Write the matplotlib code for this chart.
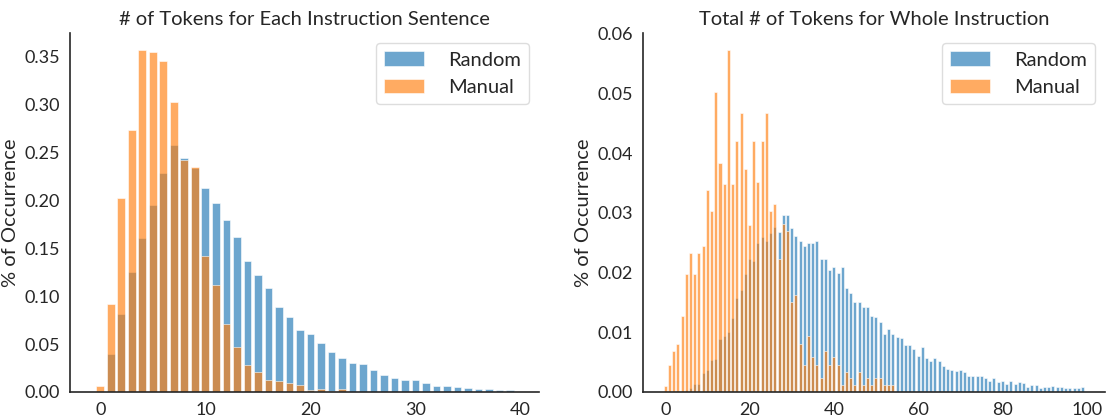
import numpy as np
import matplotlib
matplotlib.use("Agg")
import matplotlib.pyplot as plt

# per-sentence token counts (0..39)
sent_tokens = list(range(40))
sent_random = [0, 0.040, 0.081, 0.125, 0.160, 0.195, 0.228, 0.257, 0.244, 0.233,
               0.213, 0.197, 0.179, 0.161, 0.137, 0.122, 0.108, 0.089, 0.078, 0.065,
               0.060, 0.051, 0.042, 0.035, 0.030, 0.029, 0.023, 0.018, 0.015, 0.013,
               0.013, 0.0097, 0.0062, 0.0062, 0.0052, 0.0042, 0.0031, 0.0031, 0.0021, 0.0021]
sent_manual = [0.0062, 0.0914, 0.202, 0.273, 0.356, 0.354, 0.345, 0.3025, 0.242, 0.234,
               0.142, 0.112, 0.071, 0.047, 0.028, 0.021, 0.0125, 0.0118, 0.0097, 0.0076,
               0.002, 0.0028, 0.001, 0.0028, 0, 0, 0, 0, 0, 0,
               0, 0, 0, 0, 0, 0, 0, 0, 0, 0]

# whole-instruction token counts (0..99)
total_tokens = list(range(100))
total_random = [0, 0, 0, 0.0001, 0.0002, 0.0003, 0.0007, 0.0013, 0.0014, 0.0031,
                0.0036, 0.0053, 0.0055, 0.0088, 0.0093, 0.0100, 0.0124, 0.0157, 0.0171, 0.0198,
                0.0222, 0.0219, 0.0249, 0.0260, 0.0253, 0.0266, 0.0276, 0.0268, 0.0296, 0.0297,
                0.0274, 0.0261, 0.0252, 0.0244, 0.0249, 0.0249, 0.0252, 0.0222, 0.0222, 0.0204,
                0.0210, 0.0200, 0.0210, 0.0174, 0.0166, 0.0151, 0.0151, 0.0142, 0.0142, 0.0128,
                0.0126, 0.0117, 0.0097, 0.0105, 0.0097, 0.0092, 0.0091, 0.0079, 0.0078, 0.0072,
                0.0061, 0.0075, 0.0057, 0.0052, 0.0057, 0.0052, 0.0043, 0.0039, 0.0037, 0.0035,
                0.0037, 0.0033, 0.0027, 0.0027, 0.0026, 0.0026, 0.0023, 0.0018, 0.0023, 0.0017,
                0.0018, 0.0013, 0.0018, 0.0014, 0.0017, 0.0015, 0.0008, 0.0011, 0.0012, 0.0006,
                0.0009, 0.0008, 0.0010, 0.0008, 0.0008, 0.0006, 0.0007, 0.0006, 0.0007, 0.0008]
total_manual = [0.0010, 0.0045, 0.0068, 0.0080, 0.0127, 0.0198, 0.0233, 0.0198, 0.0233, 0.0244,
                0.0338, 0.0303, 0.0502, 0.0384, 0.0349, 0.0572, 0.0349, 0.0421, 0.0467, 0.0374,
                0.0279, 0.0421, 0.0351, 0.0421, 0.0467, 0.0303, 0.0314, 0.0222, 0.0281, 0.0269,
                0.0151, 0.0163, 0.0081, 0.0046, 0.0093, 0.0058, 0.0046, 0.0023, 0.0069, 0.0046,
                0.0058, 0.0046, 0.0011, 0.0034, 0.0023, 0.0011, 0.0034, 0.0011, 0.0023, 0.0011,
                0.0023, 0.0023, 0.0011, 0.0011, 0.0011] + [0] * 45

plt.rcParams['font.family'] = ['Lato', 'DejaVu Sans']
plt.rcParams['font.size'] = 14
plt.rcParams['text.color'] = '#262626'
plt.rcParams['axes.labelcolor'] = '#262626'
plt.rcParams['xtick.color'] = '#262626'
plt.rcParams['ytick.color'] = '#262626'

fig = plt.figure(figsize=(11.1, 4.2), dpi=100)
ax1 = fig.add_axes([0.063, 0.0667, 0.423, 0.854])
ax2 = fig.add_axes([0.579, 0.0667, 0.4165, 0.854])


def draw(ax, x, rand, man, width, title):
    ax.bar(x, rand, width=width, color='tab:blue', alpha=0.65,
           edgecolor='white', linewidth=0.6, label='Random')
    ax.bar(x, man, width=width, color='tab:orange', alpha=0.65,
           edgecolor='white', linewidth=0.6, label='Manual')
    ax.set_title(title, fontsize=14.5, pad=6)
    ax.set_ylabel('% of Occurrence', fontsize=14.5, labelpad=4)
    for s in ['top', 'right']:
        ax.spines[s].set_visible(False)
    for s in ['left', 'bottom']:
        ax.spines[s].set_color('#262626')
        ax.spines[s].set_linewidth(1.2)
    ax.tick_params(length=0, labelsize=13, pad=7)
    ax.legend(loc='upper right', fontsize=14.5, framealpha=1,
              edgecolor='#dddddd', fancybox=True, handletextpad=1.2)


draw(ax1, sent_tokens, sent_random, sent_manual, 0.75,
     '# of Tokens for Each Instruction Sentence')
ax1.set_xlim(-2.9, 41.8)
ax1.set_xticks([0, 10, 20, 30, 40])

draw(ax2, total_tokens, total_random, total_manual, 0.72,
     'Total # of Tokens for Whole Instruction')
ax2.set_xticks([0, 20, 40, 60, 80, 100])

fig.savefig('out.png', dpi=100)
